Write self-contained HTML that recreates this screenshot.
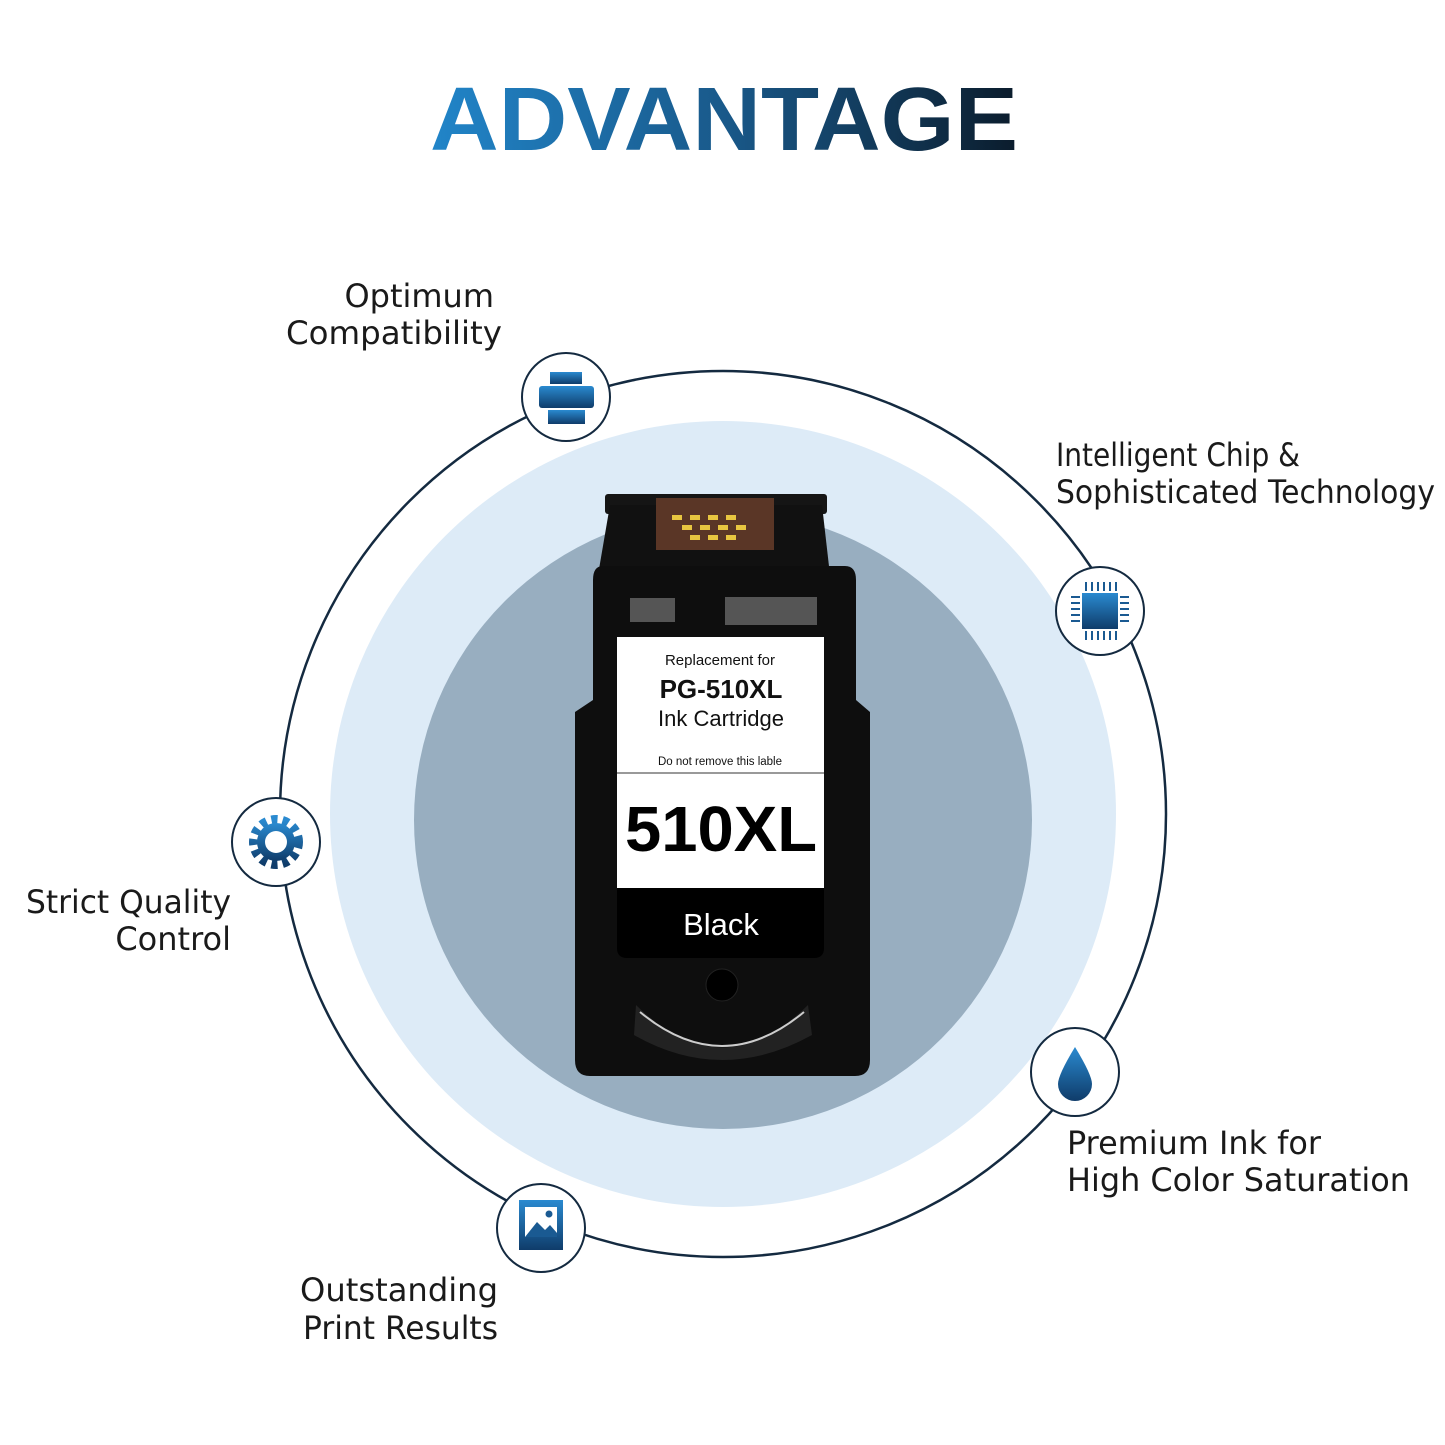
<!DOCTYPE html>
<html><head><style>html,body{margin:0;padding:0;background:#fff}svg{display:block}</style></head><body>
<svg width="1445" height="1445" viewBox="0 0 1445 1445" xmlns="http://www.w3.org/2000/svg" font-family="Liberation Sans, sans-serif">
<defs>
<linearGradient id="tg" x1="0" x2="1"><stop offset="0" stop-color="#2185c9"/><stop offset="0.5" stop-color="#19598a"/><stop offset="1" stop-color="#0b1c2c"/></linearGradient>
<linearGradient id="ig" x1="0" y1="0" x2="0" y2="1"><stop offset="0" stop-color="#2a8ad0"/><stop offset="1" stop-color="#0f3c6a"/></linearGradient>
</defs>
<text x="430" y="150" font-size="90" font-weight="bold" fill="url(#tg)" textLength="588" lengthAdjust="spacingAndGlyphs">ADVANTAGE</text>
<circle cx="723" cy="814" r="443" fill="none" stroke="#142a40" stroke-width="2.5"/>
<circle cx="723" cy="814" r="393" fill="#ddebf7"/>
<circle cx="723" cy="820" r="309" fill="#98aec0"/>
<!-- cartridge -->
<g>
<rect x="605" y="494" width="222" height="20" rx="3" fill="#151515"/>
<path d="M610 505 H822 L830 575 H598 Z" fill="#111"/>
<rect x="656" y="498" width="118" height="52" fill="#5a3626"/>
<g fill="#e8c640"><rect x="672" y="515" width="10" height="5"/><rect x="690" y="515" width="10" height="5"/><rect x="708" y="515" width="10" height="5"/><rect x="726" y="515" width="10" height="5"/><rect x="682" y="525" width="10" height="5"/><rect x="700" y="525" width="10" height="5"/><rect x="718" y="525" width="10" height="5"/><rect x="736" y="525" width="10" height="5"/><rect x="690" y="535" width="10" height="5"/><rect x="708" y="535" width="10" height="5"/><rect x="726" y="535" width="10" height="5"/></g>
<path d="M603 566 H845 Q856 566 856 580 V700 L870 712 V1060 Q870 1076 855 1076 H590 Q575 1076 575 1060 V712 L593 700 V580 Q593 566 603 566 Z" fill="#0e0e0e"/>
<rect x="630" y="598" width="45" height="24" fill="#555"/>
<rect x="725" y="597" width="92" height="28" fill="#555"/>
<rect x="617" y="637" width="207" height="252" fill="#fff"/>
<line x1="617" y1="773" x2="824" y2="773" stroke="#333" stroke-width="1"/>
<path d="M617 888 H824 V948 Q824 958 814 958 H627 Q617 958 617 948 Z" fill="#000"/>
<text x="720" y="665" font-size="15" text-anchor="middle" fill="#111">Replacement for</text>
<text x="721" y="698" font-size="26" font-weight="bold" text-anchor="middle" fill="#111">PG-510XL</text>
<text x="721" y="726" font-size="22" text-anchor="middle" fill="#111">Ink Cartridge</text>
<text x="720" y="765" font-size="11.5" text-anchor="middle" fill="#111">Do not remove this lable</text>
<text x="721" y="851" font-size="64" font-weight="bold" text-anchor="middle" fill="#000" textLength="192" lengthAdjust="spacingAndGlyphs">510XL</text>
<text x="721" y="935" font-size="31" text-anchor="middle" fill="#fff">Black</text>
<circle cx="722" cy="985" r="16" fill="#000" stroke="#222"/>
<path d="M636 1005 Q722 1090 808 1005 L812 1035 Q722 1085 634 1035 Z" fill="#222"/>
<path d="M640 1012 Q722 1080 804 1012" fill="none" stroke="#ccc" stroke-width="2"/>
</g>
<!-- icon circles -->
<g fill="#fff" stroke="#142a40" stroke-width="2">
<circle cx="566" cy="397" r="44"/><circle cx="1100" cy="611" r="44"/><circle cx="276" cy="842" r="44"/><circle cx="1075" cy="1072" r="44"/><circle cx="541" cy="1228" r="44"/>
</g>
<!-- printer -->
<g fill="url(#ig)"><rect x="550" y="372" width="32" height="12"/><rect x="539" y="386" width="55" height="22" rx="3"/><rect x="548" y="410" width="37" height="14"/></g>
<!-- chip -->
<g fill="url(#ig)"><rect x="1082" y="593" width="36" height="36"/><g stroke="#1a5a92" stroke-width="2"><path d="M1086 582v9M1092 582v9M1098 582v9M1104 582v9M1110 582v9M1116 582v9M1086 631v9M1092 631v9M1098 631v9M1104 631v9M1110 631v9M1116 631v9M1071 597h9M1071 603h9M1071 609h9M1071 615h9M1071 621h9M1120 597h9M1120 603h9M1120 609h9M1120 615h9M1120 621h9"/></g></g>
<!-- gear -->
<g><circle cx="276" cy="842" r="22" fill="none" stroke="url(#ig)" stroke-width="10" stroke-dasharray="6 5"/><circle cx="276" cy="842" r="19" fill="url(#ig)"/><circle cx="276" cy="842" r="11" fill="#fff"/></g>
<!-- drop -->
<path d="M1075 1047 Q1058 1075 1058 1084 A17 17 0 0 0 1092 1084 Q1092 1075 1075 1047 Z" fill="url(#ig)"/>
<!-- picture -->
<g><rect x="519" y="1200" width="44" height="50" fill="url(#ig)"/><rect x="525" y="1207" width="32" height="30" fill="#fff"/><path d="M525 1237 L537 1222 L545 1230 L550 1225 L557 1233 V1237 Z" fill="#1a5a92"/><circle cx="549" cy="1214" r="3.5" fill="#1a5a92"/></g>
<!-- labels -->
<g font-size="32" fill="#1a1a1a" font-family="DejaVu Sans, sans-serif">
<text x="494" y="307" text-anchor="end">Optimum</text>
<text x="502" y="344" text-anchor="end" textLength="216" lengthAdjust="spacingAndGlyphs">Compatibility</text>
<text x="1056" y="466" textLength="244" lengthAdjust="spacingAndGlyphs">Intelligent Chip &amp;</text>
<text x="1056" y="503" textLength="379" lengthAdjust="spacingAndGlyphs">Sophisticated Technology</text>
<text x="26" y="913" textLength="205" lengthAdjust="spacingAndGlyphs">Strict Quality</text>
<text x="231" y="950" text-anchor="end">Control</text>
<text x="1067" y="1154" textLength="254" lengthAdjust="spacingAndGlyphs">Premium Ink for</text>
<text x="1067" y="1191" textLength="343" lengthAdjust="spacingAndGlyphs">High Color Saturation</text>
<text x="300" y="1301" textLength="198" lengthAdjust="spacingAndGlyphs">Outstanding</text>
<text x="303" y="1339" textLength="195" lengthAdjust="spacingAndGlyphs">Print Results</text>
</g>
</svg>
</body></html>
